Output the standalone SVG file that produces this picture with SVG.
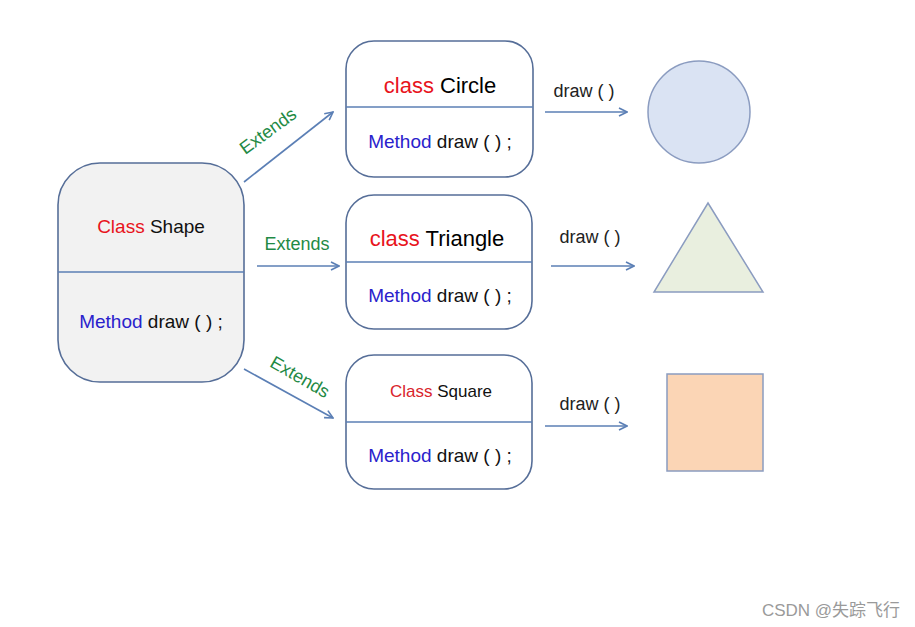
<svg xmlns="http://www.w3.org/2000/svg" width="915" height="627" viewBox="0 0 915 627">
<defs>
<marker id="ah" viewBox="0 0 10 10" refX="9" refY="5" markerWidth="10" markerHeight="10" markerUnits="userSpaceOnUse" orient="auto">
<path d="M1,1 L9,5 L1,9" fill="none" stroke="#5b7fb5" stroke-width="1.6"/>
</marker>
</defs>
<style>
text{font-family:"Liberation Sans",Arial,sans-serif;}
.box{fill:#fff;stroke:#566e98;stroke-width:1.6;}
.div{stroke:#5b7fb5;stroke-width:1.4;}
.red{fill:#e8141c;}
.blk{fill:#111;}
.blu{fill:#2a22cc;}
.grn{fill:#1f8a45;font-size:18px;}
.conn{stroke:#5b7fb5;stroke-width:1.6;fill:none;marker-end:url(#ah);}
.lbl{font-size:18px;fill:#222;}
.m{font-size:19px;}
</style>
<rect width="915" height="627" fill="#fff"/>
<g id="shape">
<rect x="58" y="163" width="186" height="219" rx="42" ry="42" class="box" style="fill:#f2f2f2"/>
<line x1="58" y1="272" x2="244" y2="272" class="div"/>
<text x="151" y="233" text-anchor="middle" font-size="19"><tspan class="red">Class</tspan><tspan class="blk"> Shape</tspan></text>
<text x="151" y="328" text-anchor="middle" class="m"><tspan class="blu">Method</tspan><tspan class="blk"> draw ( ) ;</tspan></text>
</g>
<g id="circle-class">
<rect x="346" y="41" width="187" height="136" rx="28" ry="28" class="box"/>
<line x1="346" y1="107" x2="533" y2="107" class="div"/>
<text x="440" y="93" text-anchor="middle" font-size="22"><tspan class="red">class</tspan><tspan fill="#000"> Circle</tspan></text>
<text x="440" y="148" text-anchor="middle" class="m"><tspan class="blu">Method</tspan><tspan class="blk"> draw ( ) ;</tspan></text>
</g>
<g id="triangle-class">
<rect x="346" y="195" width="186" height="134" rx="28" ry="28" class="box"/>
<line x1="346" y1="262" x2="532" y2="262" class="div"/>
<text x="437" y="246" text-anchor="middle" font-size="22"><tspan class="red">class</tspan><tspan fill="#000"> Triangle</tspan></text>
<text x="440" y="302" text-anchor="middle" class="m"><tspan class="blu">Method</tspan><tspan class="blk"> draw ( ) ;</tspan></text>
</g>
<g id="square-class">
<rect x="346" y="355" width="186" height="134" rx="28" ry="28" class="box"/>
<line x1="346" y1="422" x2="532" y2="422" class="div"/>
<text x="441" y="397" text-anchor="middle" font-size="17"><tspan fill="#d9242c">Class</tspan><tspan class="blk"> Square</tspan></text>
<text x="440" y="462" text-anchor="middle" class="m"><tspan class="blu">Method</tspan><tspan class="blk"> draw ( ) ;</tspan></text>
</g>
<g id="circle">
<circle cx="699" cy="112" r="51" fill="#dae3f3" stroke="#8b9cc0" stroke-width="1.5"/>
</g>
<g id="triangle">
<polygon points="708,203 763,292 654,292" fill="#e9efdf" stroke="#8b9cc0" stroke-width="1.5"/>
</g>
<g id="square">
<rect x="667" y="374" width="96" height="97" fill="#fbd5b5" stroke="#8b9cc0" stroke-width="1.5"/>
</g>
<g id="connectors">
<line x1="244" y1="182" x2="333" y2="112" class="conn"/>
<line x1="257" y1="266" x2="339" y2="266" class="conn"/>
<line x1="244" y1="369" x2="333" y2="418" class="conn"/>
<line x1="545" y1="112" x2="627" y2="112" class="conn"/>
<line x1="551" y1="266" x2="634" y2="266" class="conn"/>
<line x1="545" y1="426" x2="627" y2="426" class="conn"/>
<text x="268" y="137" text-anchor="middle" class="grn" transform="rotate(-36 268 131)">Extends</text>
<text x="297" y="250" text-anchor="middle" class="grn">Extends</text>
<text x="300" y="383" text-anchor="middle" class="grn" transform="rotate(30 300 377)">Extends</text>
<text x="584" y="97" text-anchor="middle" class="lbl">draw ( )</text>
<text x="590" y="243" text-anchor="middle" class="lbl">draw ( )</text>
<text x="590" y="410" text-anchor="middle" class="lbl">draw ( )</text>
</g>
<text x="831" y="616" text-anchor="middle" font-size="17" fill="#9a9a9a" style="font-family:'Liberation Sans','Noto Sans CJK SC',sans-serif">CSDN @失踪飞行</text>
</svg>
